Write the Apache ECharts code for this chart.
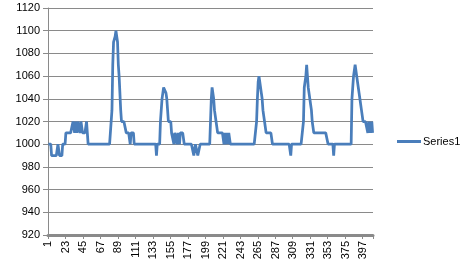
<!DOCTYPE html>
<html>
<head>
<meta charset="utf-8">
<script src="https://cdn.jsdelivr.net/npm/echarts@6/dist/echarts.min.js"></script>
<style>html,body{margin:0;padding:0;background:#fff;}#c{width:468px;height:275px;}</style>
</head>
<body>
<div id="c"></div>
<script>
// Series values (index 1..409)
var seriesName = "Series1";
var values = [
  1000,1000,1000,1000,990,990,990,990,990,990,990,990,1000,1000,990,990,990,990,1000,1000,1000,1000,
  1010,1010,1010,1010,1010,1010,1010,1010,1010,
  1020,1020,1010,1020,1020,1010,1020,1020,1020,1010,1020,1020,1010,
  1010,1010,1010,1010,1020,1010,
  1000,1000,1000,1000,1000,1000,1000,1000,1000,1000,1000,1000,1000,1000,1000,
  1000,1000,1000,1000,1000,1000,1000,1000,1000,1000,1000,1000,1000,1000,1000,
  1030,1070,1090,1090,1095,1100,1095,1090,1070,1060,1045,1030,1020,
  1020,1020,1020,1020,1020,1010,1010,1010,1010,1010,1000,1010,1010,1010,1010,1000,
  1000,1000,1000,1000,1000,1000,1000,1000,1000,1000,1000,1000,1000,1000,
  1000,1000,1000,1000,1000,1000,1000,1000,1000,1000,1000,1000,1000,
  990,1000,1000,1000,1000,
  1020,1030,1040,1045,1050,1050,1050,1045,1040,1030,1020,1020,1020,1020,1010,1010,1010,
  1000,1010,1010,1010,1000,1010,1010,1000,1010,1010,1010,1010,1010,1000,
  1000,1000,1000,1000,1000,1000,1000,1000,1000,1000,1000,
  990,990,1000,1000,1000,990,990,990,1000,
  1000,1000,1000,1000,1000,1000,1000,1000,1000,1000,1000,1000,
  1020,1040,1050,1050,1040,1030,1030,1020,1020,1010,1010,1010,1010,1010,1010,1010,1010,
  1000,1010,1010,1000,1010,1000,1010,1010,1000,1000,
  1000,1000,1000,1000,1000,1000,1000,1000,1000,1000,1000,1000,1000,1000,1000,1000,
  1000,1000,1000,1000,1000,1000,1000,1000,1000,1000,1000,1000,1000,1000,1000,
  1020,1040,1055,1060,1055,1050,1045,1040,1030,1025,1020,1020,
  1010,1010,1010,1010,1010,1010,1010,1010,
  1000,1000,1000,1000,1000,1000,1000,1000,1000,1000,1000,1000,
  1000,1000,1000,1000,1000,1000,1000,1000,1000,1000,1000,
  990,
  1000,1000,1000,1000,1000,1000,1000,1000,1000,1000,1000,1000,1000,1000,1000,
  1020,1050,1055,1060,1070,1060,1050,1045,1040,1035,1030,1020,1020,
  1010,1010,1010,1010,1010,1010,1010,1010,1010,1010,1010,1010,1010,1010,1010,1010,1010,1010,
  1000,1000,1000,1000,1000,1000,1000,
  990,
  1000,1000,1000,1000,1000,1000,1000,1000,1000,1000,1000,
  1000,1000,1000,1000,1000,1000,1000,1000,1000,1000,1000,
  1040,1050,1060,1065,1070,1065,1060,1060,1050,1045,1040,1035,1030,1025,1020,
  1020,1020,1020,1020,1020,
  1010,1020,1010,1020,1010,1020,1010
];
// Category labels: point numbers 1..N
var categories = [];
for (var i = 0; i < values.length; i++) categories.push(String(i + 1));
// Y tick range
var yMin = 920, yMax = 1120, yStep = 20;
var xLabelEvery = 22;

var chart = echarts.init(document.getElementById('c'), null, {renderer: 'canvas'});
var font = '"Liberation Sans", Arial, sans-serif';
chart.setOption({
  animation: false,
  backgroundColor: '#ffffff',
  grid: {left: 48, right: 95, top: 8, bottom: 40, containLabel: false},
  legend: {
    show: true, orient: 'vertical', left: 392, top: 131,
    itemWidth: 24, itemHeight: 3, itemGap: 4,
    icon: 'rect',
    textStyle: {fontFamily: font, fontSize: 11, color: '#000', padding: [0,0,0,-3]},
    data: [seriesName]
  },
  xAxis: {
    type: 'category', data: categories, boundaryGap: true,
    axisLine: {show: true, onZero: false, lineStyle: {color: '#8a8a8a', width: 3}},
    axisTick: {show: true, interval: xLabelEvery - 1, length: 4, lineStyle: {color: '#8a8a8a'}},
    axisLabel: {interval: xLabelEvery - 1, rotate: 90, fontFamily: font, fontSize: 11, color: '#000', margin: 6},
    splitLine: {show: false}
  },
  yAxis: {
    type: 'value', min: yMin, max: yMax, interval: yStep,
    axisLine: {show: true, lineStyle: {color: '#8a8a8a', width: 1}},
    axisTick: {show: true, length: 5, lineStyle: {color: '#8a8a8a'}},
    axisLabel: {fontFamily: font, fontSize: 11, color: '#000', margin: 8,
      formatter: function (v) { return String(v); }},
    splitLine: {show: true, lineStyle: {color: '#8a8a8a', width: 1}}
  },
  series: [{
    name: seriesName, type: 'line', data: values,
    showSymbol: false, symbol: 'none',
    lineStyle: {color: '#4a7ebb', width: 2.75},
    itemStyle: {color: '#4a7ebb'}
  }]
});
</script>
</body>
</html>
